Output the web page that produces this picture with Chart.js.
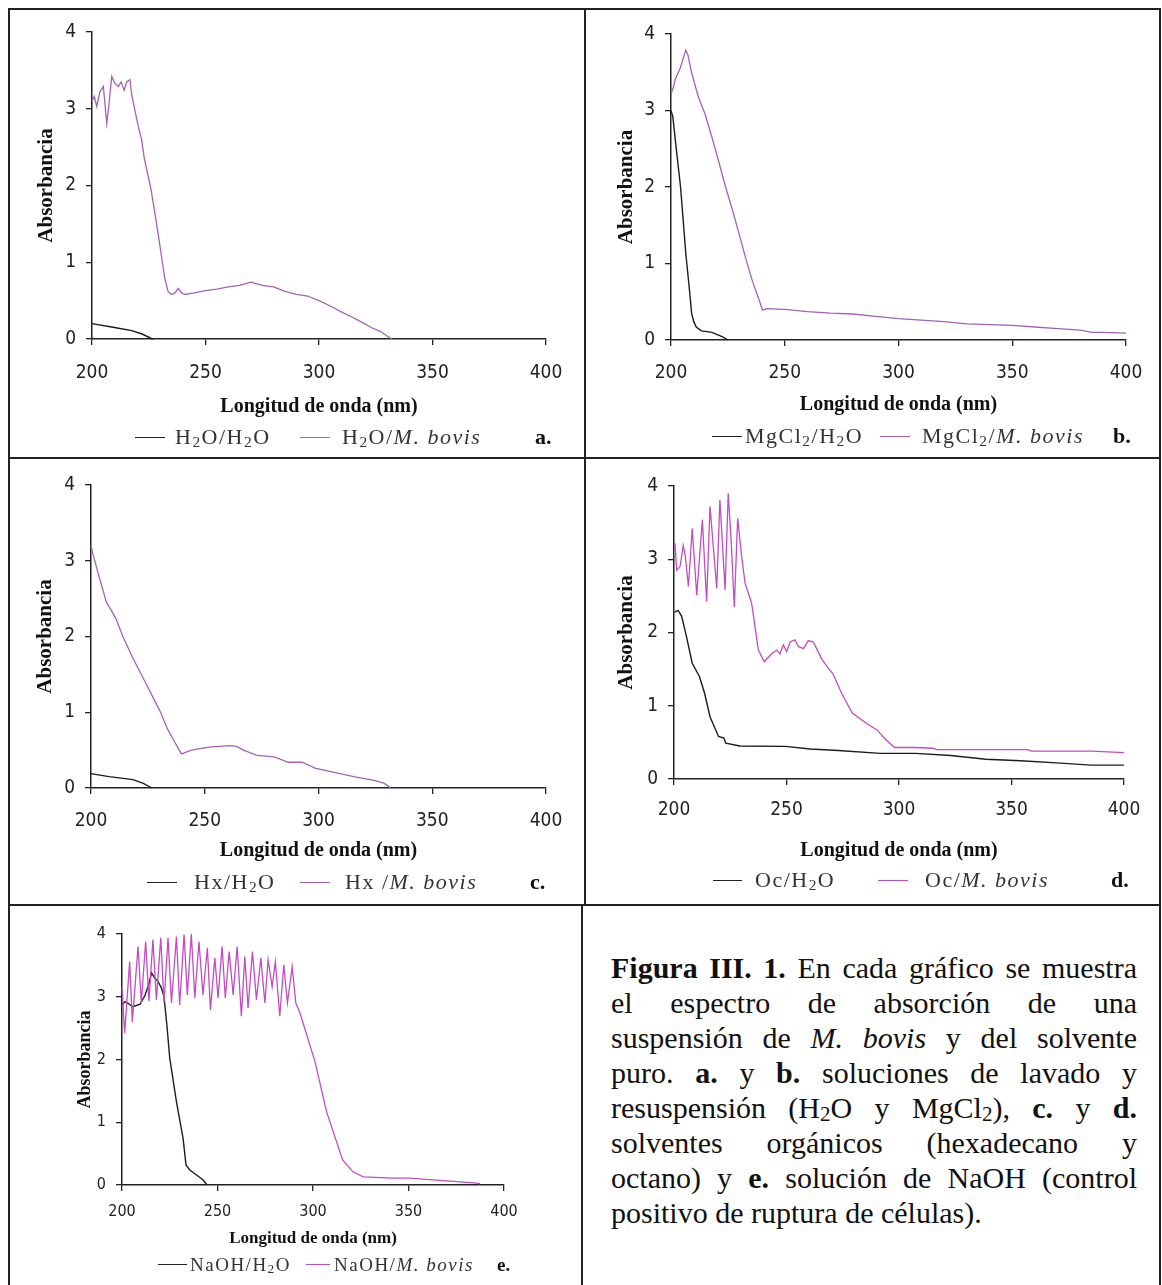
<!DOCTYPE html>
<html>
<head>
<meta charset="utf-8">
<script src="https://cdn.jsdelivr.net/npm/chart.js@4.4.1/dist/chart.umd.min.js"></script>
<style>
  body { margin: 0; background: #fff; width: 1162px; height: 1285px; position: relative; overflow: hidden; font-family: "Liberation Serif", serif; color: #222; }
  .rule { position: absolute; background: #222; }
  .panel { position: absolute; }
  .lg { position: absolute; font-size: 22px; letter-spacing: 1.5px; white-space: nowrap; line-height: 1; transform: translateY(-50%); color: #333; }
  .lg sub { font-size: 0.7em; vertical-align: -0.2em; line-height: 0; }
  .lg b { color: #111; letter-spacing: 0; }
  .sw { position: absolute; height: 0; border-top: 1.5px solid; }
  #caption { position: absolute; left: 611px; top: 950px; width: 526px; font-size: 30px; line-height: 35px; color: #111; }
  #caption div { text-align: justify; text-align-last: justify; white-space: nowrap; }
  #caption div.last { text-align-last: left; }
  #caption sub { font-size: 0.7em; vertical-align: -0.15em; line-height: 0; }
</style>
</head>
<body>
<div id="caption">
  <div><b>Figura III. 1.</b> En cada gráfico se muestra</div>
  <div>el espectro de absorción de una</div>
  <div>suspensión de <i>M. bovis</i> y del solvente</div>
  <div>puro. <b>a.</b> y <b>b.</b> soluciones de lavado y</div>
  <div>resuspensión (H<sub>2</sub>O y MgCl<sub>2</sub>), <b>c.</b> y <b>d.</b></div>
  <div>solventes orgánicos (hexadecano y</div>
  <div>octano) y <b>e.</b> solución de NaOH (control</div>
  <div class="last">positivo de ruptura de células).</div>
</div>
<script>
// wavelength (nm) / absorbance
const aBlankNm = [200, 209.9, 217.5, 222.1, 225.9, 227]
const aBlankAbs = [0.2, 0.15, 0.11, 0.065, 0.01, 0]
const aCellNm = [200, 201, 202.1, 203.5, 205, 206.5, 207.2, 208.7, 210.1, 211.6, 212.8, 214.2, 215.3, 216.7, 217.4, 218.9, 220.4, 221.9, 223, 226, 229, 231, 232, 233.5, 235, 236.5, 238, 239.5, 241, 245, 250, 255, 260, 265, 270, 275, 280, 285, 290, 295, 300, 305, 310, 315, 320, 323, 327, 330, 332]
const aCellAbs = [3.1, 3.16, 3.03, 3.22, 3.29, 2.81, 2.98, 3.42, 3.33, 3.29, 3.35, 3.24, 3.35, 3.38, 3.2, 2.98, 2.77, 2.59, 2.36, 1.95, 1.4, 1.0, 0.8, 0.62, 0.58, 0.6, 0.66, 0.6, 0.58, 0.6, 0.63, 0.65, 0.68, 0.7, 0.74, 0.7, 0.68, 0.62, 0.58, 0.56, 0.5, 0.43, 0.35, 0.28, 0.2, 0.15, 0.1, 0.04, 0]

const bBlankNm = [200, 200.8, 202.5, 204.2, 206.5, 208, 209.1, 210, 211.1, 213.4, 218, 222.7, 225]
const bBlankAbs = [3.0, 2.92, 2.45, 2.0, 1.13, 0.69, 0.34, 0.24, 0.17, 0.12, 0.1, 0.04, 0]
const bCellNm = [200, 201, 202, 204, 206.5, 207.5, 209, 212, 215, 218, 221, 224, 227, 230, 233, 236, 239, 240.2, 242, 250, 260, 270, 280, 290, 300, 310, 320, 330, 340, 350, 360, 370, 380, 385, 390, 400]
const bCellAbs = [3.22, 3.3, 3.42, 3.55, 3.79, 3.72, 3.5, 3.18, 2.95, 2.65, 2.33, 2.0, 1.7, 1.38, 1.05, 0.75, 0.5, 0.39, 0.41, 0.4, 0.37, 0.35, 0.34, 0.31, 0.28, 0.26, 0.24, 0.21, 0.2, 0.19, 0.17, 0.15, 0.13, 0.1, 0.1, 0.09]

const cBlankNm = [200, 207.9, 218.5, 223, 226.8]
const cBlankAbs = [0.19, 0.15, 0.11, 0.06, 0]
const cCellNm = [200, 201, 203, 206.7, 210.9, 214, 218.5, 224.5, 228, 230.6, 233.6, 236, 239.7, 244.2, 251.8, 260.9, 264, 267, 273, 280.6, 286.7, 292.7, 298.8, 306.4, 315.5, 324.5, 329, 331.8]
const cCellAbs = [3.2, 3.07, 2.85, 2.46, 2.24, 2.0, 1.71, 1.36, 1.15, 1.0, 0.78, 0.65, 0.45, 0.5, 0.54, 0.56, 0.55, 0.5, 0.43, 0.41, 0.34, 0.34, 0.26, 0.21, 0.15, 0.1, 0.06, 0]

const dBlankNm = [200.3, 201.9, 203.4, 205.5, 208.1, 211.3, 213.6, 216, 219.8, 222.2, 223, 229.2, 249.5, 260.5, 273, 291.7, 307.3, 323, 338.6, 354, 370, 385.5, 400]
const dBlankAbs = [2.28, 2.3, 2.22, 1.95, 1.58, 1.4, 1.17, 0.85, 0.58, 0.56, 0.49, 0.45, 0.445, 0.41, 0.39, 0.35, 0.35, 0.32, 0.27, 0.25, 0.22, 0.19, 0.19]
const dCellNm = [200, 200.4, 201.2, 202.7, 204.1, 205, 206.4, 208.1, 210.1, 212.6, 214.5, 216, 219, 220.4, 222.7, 224.1, 225.5, 226.8, 228.3, 230.1, 231.6, 234.5, 237.5, 240.1, 243.4, 245.6, 247.1, 248.6, 250.1, 251.6, 253.8, 255.2, 257.5, 259.7, 261.9, 263.4, 265.6, 268.6, 270.6, 274.5, 279.2, 285.5, 290.2, 294.1, 298, 307.3, 315.2, 316.7, 338.6, 357.3, 358.9, 385.5, 400]
const dCellAbs = [3.15, 3.22, 2.85, 2.9, 3.19, 3.05, 2.63, 3.42, 2.51, 3.54, 2.42, 3.72, 2.6, 3.81, 2.58, 3.9, 3.2, 2.35, 3.56, 3.03, 2.67, 2.4, 1.76, 1.6, 1.71, 1.76, 1.71, 1.83, 1.74, 1.87, 1.9, 1.81, 1.78, 1.89, 1.87, 1.78, 1.64, 1.51, 1.44, 1.17, 0.9, 0.76, 0.67, 0.54, 0.43, 0.43, 0.42, 0.4, 0.4, 0.4, 0.38, 0.38, 0.36]

const eBlankNm = [200, 201.5, 203, 205.5, 207.5, 209.5, 212, 214, 215.5, 217, 218.5, 220.5, 222, 223.5, 225, 228.5, 232, 233.5, 235.5, 239, 242.5, 244.5]
const eBlankAbs = [2.87, 2.92, 2.9, 2.84, 2.86, 2.88, 3.02, 3.2, 3.38, 3.3, 3.26, 3.15, 3.0, 2.55, 2.02, 1.33, 0.74, 0.32, 0.24, 0.16, 0.08, 0]
const eCellNm = [200, 201.4, 202.5, 204, 205.4, 208.4, 210.1, 212.4, 214.1, 216.2, 218, 220.3, 222, 224.1, 225.9, 228.5, 230.2, 232.5, 234.2, 236.3, 238.1, 240.3, 242.4, 244.7, 246.3, 248.6, 250.3, 252.4, 254.1, 256.1, 258.2, 260.3, 262.5, 264.3, 266, 268.3, 270.4, 272.7, 274.8, 276.5, 278.6, 280.3, 282.6, 284.7, 286.6, 289.1, 291, 293.1, 301, 307.1, 315.5, 321, 326.3, 342, 350.7, 368.2, 385.7, 387.4]
const eCellAbs = [3.16, 2.42, 2.9, 3.56, 2.6, 3.8, 2.9, 3.88, 2.93, 3.91, 2.95, 3.94, 2.9, 3.94, 2.9, 3.96, 2.87, 3.99, 3.03, 4.0, 2.98, 3.88, 3.03, 3.78, 2.79, 3.62, 2.98, 3.8, 2.98, 3.72, 3.03, 3.8, 2.69, 3.64, 2.82, 3.72, 2.95, 3.62, 2.9, 3.59, 3.16, 3.56, 2.69, 3.51, 2.9, 3.48, 2.9, 2.75, 1.97, 1.17, 0.4, 0.21, 0.13, 0.11, 0.11, 0.07, 0.03, 0.02]

const xTicks = [200, 250, 300, 350, 400]
const yTicks = [0, 1, 2, 3, 4]
const xTitle = "Longitud de onda (nm)"
const yTitle = "Absorbancia"

// frame rules: [left, top, width, height]
const rules = [
  [8, 8, 1153, 1.5], [8, 457, 1153, 1.5], [8, 904, 1153, 1.5],
  [8, 8, 1.5, 1277], [1159, 8, 1.5, 1277],
  [584, 8, 1.5, 897], [581, 904, 1.5, 381],
]
rules.forEach(r => {
  const d = document.createElement("div")
  d.className = "rule"
  d.style.cssText = `left:${r[0]}px;top:${r[1]}px;width:${r[2]}px;height:${r[3]}px`
  document.body.appendChild(d)
})

const pts = (nm, abs) => nm.map((x, i) => ({ x: x, y: abs[i] }))
const tickFont = "'DejaVu Sans Condensed', 'DejaVu Sans', sans-serif"

const panels = [
  { box: [10, 10, 573, 446], plot: [92, 32, 546, 339], xTickY: 373, xTitleY: 407, yTitleX: 47, tick: 19, title: 20, purple: "#a462b6",
    blank: pts(aBlankNm, aBlankAbs), cell: pts(aCellNm, aCellAbs),
    legend: { y: 437, size: 22, k: [135, 165], kt: [175, "H<sub>2</sub>O/H<sub>2</sub>O"], p: [300, 330], pt: [342, "H<sub>2</sub>O/<i>M. bovis</i>"], tag: [535, "a."] } },
  { box: [587, 10, 571, 446], plot: [671, 34, 1126, 340], xTickY: 373, xTitleY: 405, yTitleX: 627, tick: 19, title: 20, purple: "#a462b6",
    blank: pts(bBlankNm, bBlankAbs), cell: pts(bCellNm, bCellAbs),
    legend: { y: 436, size: 22, k: [712, 742], kt: [745, "MgCl<sub>2</sub>/H<sub>2</sub>O"], p: [880, 910], pt: [922, "MgCl<sub>2</sub>/<i>M. bovis</i>"], tag: [1113, "b."] } },
  { box: [10, 460, 573, 443], plot: [91, 485, 546, 788], xTickY: 821, xTitleY: 851, yTitleX: 46, tick: 19, title: 20, purple: "#a462b6",
    blank: pts(cBlankNm, cBlankAbs), cell: pts(cCellNm, cCellAbs),
    legend: { y: 882, size: 22, k: [147, 177], kt: [194, "Hx/H<sub>2</sub>O"], p: [300, 330], pt: [345, "Hx /<i>M. bovis</i>"], tag: [530, "c."] } },
  { box: [587, 460, 571, 443], plot: [674, 486, 1124, 779], xTickY: 810, xTitleY: 851, yTitleX: 627, tick: 19, title: 20, purple: "#c44cc0",
    blank: pts(dBlankNm, dBlankAbs), cell: pts(dCellNm, dCellAbs),
    legend: { y: 880, size: 22, k: [713, 742], kt: [755, "Oc/H<sub>2</sub>O"], p: [878, 908], pt: [925, "Oc/<i>M. bovis</i>"], tag: [1111, "d."] } },
  { box: [10, 907, 570, 378], plot: [122, 934, 504, 1185], xTickY: 1212, xTitleY: 1239, yTitleX: 85, tick: 16, title: 17, purple: "#c44cc0",
    blank: pts(eBlankNm, eBlankAbs), cell: pts(eCellNm, eCellAbs),
    legend: { y: 1264, size: 19, k: [158, 187], kt: [190, "NaOH/H<sub>2</sub>O"], p: [306, 330], pt: [334, "NaOH/<i>M. bovis</i>"], tag: [497, "e."] } },
]

function addLegend(lg, purple) {
  const sw = (x, color) => {
    const d = document.createElement("div")
    d.className = "sw"
    d.style.cssText = `left:${x[0]}px;width:${x[1] - x[0]}px;top:${lg.y}px;border-color:${color}`
    document.body.appendChild(d)
  }
  const txt = (t, html) => {
    const s = document.createElement("span")
    s.className = "lg"
    s.style.cssText = `left:${t}px;top:${lg.y}px;font-size:${lg.size}px`
    s.innerHTML = html
    document.body.appendChild(s)
  }
  sw(lg.k, "#222")
  txt(lg.kt[0], lg.kt[1])
  sw(lg.p, purple)
  txt(lg.pt[0], lg.pt[1])
  txt(lg.tag[0], "<b>" + lg.tag[1] + "</b>")
}

panels.forEach(p => {
  const [bx, by, bw, bh] = p.box
  const [L, T, R, B] = p.plot
  const wrap = document.createElement("div")
  wrap.className = "panel"
  wrap.style.cssText = `left:${bx}px;top:${by}px;width:${bw}px;height:${bh}px`
  const cv = document.createElement("canvas")
  cv.width = bw
  cv.height = bh
  wrap.appendChild(cv)
  document.body.appendChild(wrap)

  const tickLen = 6
  new Chart(cv, {
    type: "line",
    data: {
      datasets: [
        { data: p.cell, borderColor: p.purple, borderWidth: 1.3, pointRadius: 0, tension: 0, clip: false },
        { data: p.blank, borderColor: "#1c1c1c", borderWidth: 1.4, pointRadius: 0, tension: 0, clip: false },
      ],
    },
    options: {
      responsive: false,
      animation: false,
      events: [],
      layout: { padding: { left: 0, top: T - by, right: bx + bw - R, bottom: 0 } },
      plugins: { legend: { display: false }, tooltip: { enabled: false } },
      scales: {
        x: {
          type: "linear",
          min: xTicks[0],
          max: xTicks[xTicks.length - 1],
          afterBuildTicks: s => { s.ticks = xTicks.map(v => ({ value: v })) },
          afterFit: s => { s.height = by + bh - B },
          ticks: { autoSkip: false, maxRotation: 0, color: "#222", padding: p.xTickY - B - tickLen - p.tick * 0.6,
            font: { family: tickFont, size: p.tick } },
          grid: { drawOnChartArea: false, tickLength: tickLen, color: "#222", lineWidth: 1.3 },
          border: { color: "#222", width: 1.5 },
          title: { display: true, text: xTitle, color: "#111",
            font: { family: "'Liberation Serif', serif", weight: "bold", size: p.title },
            padding: { top: 0, bottom: by + bh - p.xTitleY - p.title * 0.6 } },
        },
        y: {
          min: yTicks[0],
          max: yTicks[yTicks.length - 1],
          afterBuildTicks: s => { s.ticks = yTicks.map(v => ({ value: v })) },
          afterFit: s => { s.width = L - bx },
          ticks: { color: "#222", padding: 10, font: { family: tickFont, size: p.tick } },
          grid: { drawOnChartArea: false, tickLength: tickLen, color: "#222", lineWidth: 1.3 },
          border: { color: "#222", width: 1.5 },
          title: { display: true, text: yTitle, color: "#111",
            font: { family: "'Liberation Serif', serif", weight: "bold", size: p.title + 1 },
            padding: { top: p.yTitleX - bx - (p.title + 1) * 0.6, bottom: 0 } },
        },
      },
    },
  })
  addLegend(p.legend, p.purple)
})
</script>
</body>
</html>
